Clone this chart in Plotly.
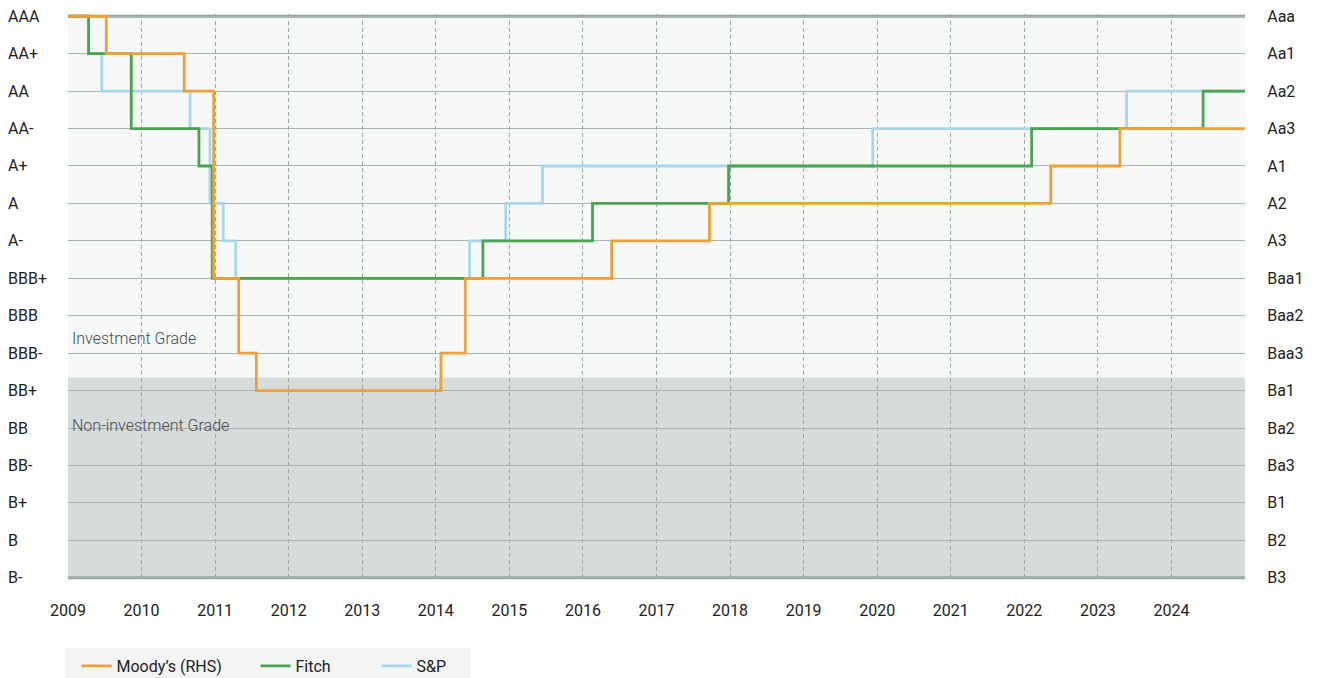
import plotly.graph_objects as go

# Rating scales (index 0 = lowest shown)
sp_fitch_scale = ["B-", "B", "B+", "BB-", "BB", "BB+", "BBB-", "BBB", "BBB+",
                  "A-", "A", "A+", "AA-", "AA", "AA+", "AAA"]
moodys_scale = ["B3", "B2", "B1", "Ba3", "Ba2", "Ba1", "Baa3", "Baa2", "Baa1",
                "A3", "A2", "A1", "Aa3", "Aa2", "Aa1", "Aaa"]
years = list(range(2009, 2025))

# Rating histories (decimal year of change, rating from that date)
moodys_dates = [2009.0, 2009.52, 2010.58, 2010.98, 2011.32, 2011.56, 2014.07,
                2014.40, 2016.39, 2017.72, 2022.36, 2023.30, 2025.0]
moodys_ratings = ["Aaa", "Aa1", "Aa2", "Baa1", "Baa3", "Ba1", "Baa3",
                  "Baa1", "A3", "A2", "A1", "Aa3", "Aa3"]

fitch_dates = [2009.0, 2009.28, 2009.86, 2010.78, 2010.96, 2014.64, 2016.13,
               2017.98, 2022.10, 2024.43, 2025.0]
fitch_ratings = ["AAA", "AA+", "AA-", "A+", "BBB+", "A-", "A",
                 "A+", "AA-", "AA", "AA"]

sp_dates = [2009.0, 2009.28, 2009.46, 2010.66, 2010.93, 2011.11, 2011.28,
            2014.46, 2014.95, 2015.45, 2019.94, 2023.39, 2025.0]
sp_ratings = ["AAA", "AA+", "AA", "AA-", "A", "A-", "BBB+",
              "A-", "A", "A+", "AA-", "AA", "AA"]

ig_boundary = 5.35  # investment / non-investment grade split (scale units)

FONT = "Roboto"
FS = 16
TXT = "#222222"
ORANGE = "#f0a038"
GREEN = "#48a44d"
BLUE = "#a9d6ef"
LW = 2.8

# page body has an 8px offset, so the figure is sized to fit the window
W, H = 1309, 670
ML, MR, MT, MB = 60, 72, 6, 98
PW = W - ML - MR   # 1177
PH = H - MT - MB   # 566

fig = go.Figure()
fig.add_trace(go.Scatter(x=sp_dates, y=[sp_fitch_scale.index(r) for r in sp_ratings],
                         mode="lines", line=dict(color=BLUE, width=LW, shape="hv"),
                         name="S&P", yaxis="y"))
fig.add_trace(go.Scatter(x=fitch_dates, y=[sp_fitch_scale.index(r) for r in fitch_ratings],
                         mode="lines", line=dict(color=GREEN, width=LW, shape="hv"),
                         name="Fitch", yaxis="y", legendwidth=76))
fig.add_trace(go.Scatter(x=moodys_dates, y=[moodys_scale.index(r) for r in moodys_ratings],
                         mode="lines", line=dict(color=ORANGE, width=LW, shape="hv"),
                         name="Moody’s (RHS)", yaxis="y2", legendwidth=134))

yr = [-0.06, 15.06]
shapes = [
    dict(type="rect", xref="x domain", yref="y", x0=0, x1=1, y0=ig_boundary, y1=15,
         fillcolor="#f7f9f9", line=dict(width=0), layer="below"),
    dict(type="rect", xref="x domain", yref="y", x0=0, x1=1, y0=0, y1=ig_boundary,
         fillcolor="#d5dcdb", line=dict(width=0), layer="below"),
    dict(type="line", xref="x domain", yref="y", x0=0, x1=1, y0=15, y1=15,
         line=dict(color="#94a3a2", width=3), layer="below"),
    dict(type="line", xref="x domain", yref="y", x0=0, x1=1, y0=0, y1=0,
         line=dict(color="#94a3a2", width=3), layer="below"),
    # legend background box
    dict(type="rect", xref="paper", yref="paper", x0=-3/PW, x1=402/PW,
         y0=(572-700)/PH, y1=(572-640)/PH, fillcolor="#f3f5f5",
         line=dict(width=0), layer="below"),
]

annotations = []
for i, lab in enumerate(sp_fitch_scale):
    annotations.append(dict(text=lab, xref="paper", yref="y", x=-62/PW, y=i,
                            xanchor="left", yanchor="middle", showarrow=False,
                            font=dict(family=FONT, size=FS, color=TXT)))
annotations.append(dict(text="Investment Grade", xref="x", yref="y", x=2009.025, y=6.4,
                        xanchor="left", yanchor="middle", showarrow=False,
                        font=dict(family=FONT, size=FS, color="#4a4a4a", weight=300)))
annotations.append(dict(text="Non-investment Grade", xref="x", yref="y", x=2009.025, y=4.08,
                        xanchor="left", yanchor="middle", showarrow=False,
                        font=dict(family=FONT, size=FS, color="#4a4a4a", weight=300)))

fig.update_layout(
    width=W, height=H,
    margin=dict(l=ML, r=MR, t=MT, b=MB, autoexpand=False),
    paper_bgcolor="white", plot_bgcolor="white",
    font=dict(family=FONT, size=FS, color=TXT),
    shapes=shapes, annotations=annotations,
    showlegend=True,
    legend=dict(orientation="h", x=8.5/PW, y=(572-658)/PH, xanchor="left",
                yanchor="middle", bgcolor="rgba(0,0,0,0)", traceorder="reversed",
                font=dict(family=FONT, size=FS, color=TXT), itemwidth=30),
    xaxis=dict(range=[2009, 2025], tickvals=years, ticktext=[str(y) for y in years],
               showgrid=True, gridcolor="#9ea9a8", gridwidth=1, griddash="4px,3px",
               zeroline=False, showline=False, ticks="outside", ticklen=16,
               tickcolor="rgba(0,0,0,0)", automargin=False, ticklabeloverflow="allow",
               tickfont=dict(family=FONT, size=FS, color=TXT)),
    yaxis=dict(range=yr, tickvals=list(range(16)), showticklabels=False,
               showgrid=True, gridcolor="#a7b3b1", gridwidth=1, zeroline=False,
               showline=False, automargin=False),
    yaxis2=dict(range=yr, tickvals=list(range(16)), ticktext=moodys_scale,
                overlaying="y", side="right", showgrid=False, zeroline=False,
                showline=False, ticks="outside", ticklen=18, tickcolor="rgba(0,0,0,0)",
                automargin=False, ticklabeloverflow="allow",
                tickfont=dict(family=FONT, size=FS, color=TXT)),
)

fig.write_html("out.html")
